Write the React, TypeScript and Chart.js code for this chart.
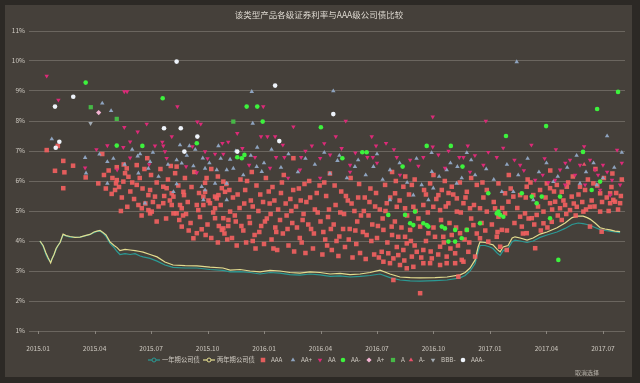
import React, { useEffect, useRef } from "react";
import { Chart, registerables } from "chart.js";

Chart.register(...registerables);

// ---------------- data ----------------
const TITLE = "该类型产品各级证券利率与AAA级公司债比较";
const X_TICK_MONTHS = [0, 3, 6, 9, 12, 15, 18, 21, 24, 27, 30];
const X_TICK_LABELS = ["2015.01", "2015.04", "2015.07", "2015.10", "2016.01", "2016.04", "2016.07", "2016.10", "2017.01", "2017.04", "2017.07"];
const SERIES_NAMES = ["一年期公司债", "两年期公司债", "AAA", "AA+", "AA", "AA-", "A+", "A", "A-", "BBB-", "AAA-"];

// x = months since 2015.01, y = rate (%)
const ONE_YEAR: [number, number][] = [[0.1,4.0],[0.27,3.82],[0.42,3.55],[0.53,3.4],[0.67,3.3],[0.74,3.4],[0.85,3.55],[0.96,3.72],[1.06,3.85],[1.17,3.95],[1.33,4.2],[1.49,4.17],[1.7,4.13],[1.96,4.12],[2.23,4.13],[2.5,4.17],[2.76,4.22],[2.97,4.28],[3.13,4.32],[3.29,4.33],[3.45,4.26],[3.61,4.15],[3.82,3.92],[4.04,3.78],[4.2,3.65],[4.35,3.55],[4.62,3.58],[4.89,3.55],[5.15,3.58],[5.42,3.5],[5.58,3.47],[5.95,3.42],[6.32,3.33],[6.74,3.2],[7.17,3.12],[7.81,3.1],[8.44,3.1],[9.13,3.05],[9.82,3.02],[10.2,2.97],[10.73,2.98],[11.26,2.95],[11.79,2.9],[12.32,2.95],[12.85,2.93],[13.38,2.88],[13.91,2.86],[14.44,2.9],[14.98,2.87],[15.51,2.82],[16.04,2.84],[16.57,2.8],[17.1,2.82],[17.63,2.85],[18.16,2.9],[18.69,2.78],[19.22,2.7],[19.76,2.67],[20.29,2.66],[21.08,2.68],[21.72,2.7],[22.41,2.77],[22.68,2.85],[22.94,3.0],[23.21,3.25],[23.37,3.65],[23.47,3.85],[23.74,3.85],[24.0,3.8],[24.16,3.75],[24.38,3.6],[24.54,3.52],[24.7,3.68],[24.96,3.75],[25.18,3.98],[25.33,4.03],[25.6,4.0],[25.97,3.95],[26.29,4.0],[26.66,4.12],[27.03,4.2],[27.56,4.3],[27.99,4.42],[28.36,4.55],[28.68,4.6],[28.94,4.58],[29.16,4.55],[29.31,4.52],[29.58,4.45],[29.85,4.38],[30.11,4.35],[30.38,4.33],[30.64,4.3],[30.91,4.28]];

const TWO_YEAR: [number, number][] = [[0.1,4.0],[0.27,3.85],[0.42,3.6],[0.53,3.45],[0.67,3.27],[0.74,3.4],[0.85,3.55],[0.96,3.75],[1.06,3.85],[1.17,3.95],[1.33,4.23],[1.49,4.18],[1.7,4.15],[1.96,4.12],[2.23,4.13],[2.5,4.18],[2.76,4.22],[2.97,4.3],[3.13,4.33],[3.29,4.35],[3.45,4.28],[3.61,4.2],[3.82,3.97],[4.04,3.85],[4.2,3.78],[4.35,3.68],[4.62,3.72],[4.89,3.7],[5.15,3.68],[5.42,3.65],[5.58,3.63],[5.95,3.55],[6.32,3.47],[6.74,3.3],[7.17,3.2],[7.81,3.18],[8.44,3.17],[9.13,3.13],[9.82,3.1],[10.2,3.03],[10.73,3.05],[11.26,3.0],[11.79,2.97],[12.32,3.02],[12.85,3.0],[13.38,2.95],[13.91,2.93],[14.44,2.97],[14.98,2.95],[15.51,2.9],[16.04,2.92],[16.57,2.88],[17.1,2.9],[17.63,2.95],[18.16,3.03],[18.69,2.9],[19.22,2.8],[19.76,2.78],[20.29,2.77],[21.08,2.78],[21.72,2.8],[22.41,2.87],[22.68,2.95],[22.94,3.1],[23.21,3.37],[23.37,3.8],[23.47,3.97],[23.74,3.95],[24.0,3.9],[24.16,3.87],[24.38,3.72],[24.54,3.64],[24.7,3.8],[24.96,3.85],[25.18,4.1],[25.33,4.14],[25.6,4.1],[25.97,4.03],[26.29,4.1],[26.66,4.23],[27.03,4.3],[27.56,4.44],[27.99,4.6],[28.36,4.78],[28.68,4.83],[28.94,4.83],[29.16,4.78],[29.31,4.73],[29.58,4.6],[29.85,4.44],[30.11,4.4],[30.38,4.37],[30.64,4.33],[30.91,4.31]];

const AAA: [number, number][] = [
[0.46,7.03],[1.05,7.17],[1.34,6.67],[1.86,6.51],[0.9,6.34],[1.4,6.29],[2.53,6.12],[1.34,5.76],[3.41,6.9],[3.2,5.92],[4.18,6.46],[4.18,6.03],[4.14,5.92],[4.53,5.98],[3.91,5.57],[4.09,5.7],[4.71,6.42],[4.62,6.26],[4.8,6.14],[5.24,6.53],[5.8,6.76],[7.36,6.48],[7.28,6.26],[13.56,6.76],
[5.24,5.87],[5.86,5.53],[6.21,5.48],[6.65,5.81],[6.83,5.76],[7.19,5.48],[7.72,5.64],[7.75,5.53],[4.74,5.14],[5.33,5.2],[5.51,5.09],[5.86,5.03],[6.04,4.98],[6.65,5.26],[7.1,5.2],[7.19,4.92],[7.54,5.2],[7.63,5.09],[7.86,4.9],[8.43,5.2],[8.51,5.03],[8.78,5.48],[8.87,5.64],[8.87,5.94],[9.4,5.48],[9.49,5.42],[9.58,5.53],[9.76,5.76],[9.93,5.64],[9.84,5.98],[9.13,5.26],[9.4,4.76],[9.84,4.42],[9.76,4.37],[10.11,4.7],[10.2,4.98],[8.69,4.39],[8.43,4.26],[8.25,4.09],[7.63,4.48],[7.36,4.92],[5.95,4.92],[7.1,5.59],[8.78,5.2],[9.84,4.76],[9.4,5.09],[10.16,5.7],
[3.5,6.2],[3.6,5.75],[3.75,6.35],[3.95,6.1],[4.3,5.8],[4.45,5.45],[4.55,6.55],[4.9,5.65],[5.0,5.95],[5.1,5.4],[5.4,6.1],[5.55,5.75],[5.65,6.4],[5.7,5.25],[5.95,5.7],[6.0,6.2],[6.1,5.3],[6.3,5.95],[6.4,5.15],[6.5,6.4],[6.7,5.5],[6.9,6.05],[7.0,5.35],[7.05,6.5],[7.45,5.85],[7.5,4.7],[7.8,6.1],[7.95,5.3],[8.1,4.6],[8.15,5.8],[8.3,6.3],[8.55,5.6],[8.6,4.8],[8.95,6.1],[9.0,4.55],[9.05,5.35],[9.2,6.4],[9.3,4.95],[9.55,6.15],[9.6,4.5],[9.7,5.2],[9.9,4.25],[10.0,5.9],[10.1,4.5],[8.0,4.35],[7.7,4.85],[6.8,4.75],[6.3,4.65],[5.5,4.85],[4.4,5.0],[9.2,4.1],[9.55,3.95],[10.05,4.05],[8.9,4.2],
[10.3,4.1],[10.35,5.45],[10.5,4.65],[10.55,3.85],[10.7,5.1],[10.75,6.05],[10.9,4.35],[11.0,5.7],[11.05,3.95],[11.2,4.8],[11.3,5.35],[11.35,6.3],[11.5,4.2],[11.55,3.75],[11.7,5.0],[11.8,5.55],[11.85,4.5],[12.0,3.9],[12.1,6.1],[12.15,4.75],[12.3,5.25],[12.4,4.05],[12.45,5.8],[12.6,4.45],[12.7,3.7],[12.75,5.05],[12.9,5.6],[13.0,4.25],[13.05,6.2],[13.2,4.85],[13.3,3.85],[13.4,5.4],[13.5,4.6],[13.6,3.65],[13.7,5.15],[13.85,5.75],[13.9,4.1],[14.05,4.7],[14.2,3.6],[14.25,5.3],[14.4,6.0],[14.5,4.4],[14.6,3.75],[14.7,5.05],[14.85,4.95],[14.95,5.85],[15.1,3.55],[15.15,4.3],[15.3,5.5],[15.4,4.8],[15.5,6.25],[15.6,3.7],[15.7,4.55],[15.8,5.2],[15.95,3.5],[16.0,4.15],[16.1,5.65],[16.25,4.9],[16.3,3.8],[16.45,5.35],[16.55,4.4],[16.6,6.1],[16.7,3.45],[16.8,5.0],[16.95,4.65],[17.05,5.9],[17.1,3.6],[17.25,4.3],[17.35,5.45],[17.4,3.4],[17.55,4.85],[17.65,5.75],[17.7,4.0],[17.85,3.55],[17.9,5.15],[18.05,4.5],[18.1,3.45],
[10.45,4.85],[10.6,5.55],[10.8,4.5],[10.95,5.25],[11.1,6.0],[11.25,4.6],[11.4,5.15],[11.6,5.85],[11.75,4.3],[11.95,5.3],[12.05,4.65],[12.25,5.65],[12.35,4.9],[12.55,5.35],[12.65,4.3],[12.85,4.7],[12.95,5.95],[13.15,5.25],[13.25,4.4],[13.45,5.0],[13.55,5.7],[13.75,4.45],[13.95,5.35],[14.1,4.9],[14.15,5.9],[14.35,4.55],[14.45,5.45],[14.65,4.25],[14.8,5.6],[15.0,4.65],[15.2,5.95],[15.25,4.05],[15.45,5.05],[15.55,4.4],[15.75,5.85],[15.85,4.0],[16.05,4.95],[16.2,4.4],[16.35,5.5],[16.5,4.05],[16.65,5.25],[16.85,4.35],[17.0,5.45],[17.15,4.85],[17.3,5.0],[17.45,4.2],[17.6,5.3],[17.75,4.55],[17.95,5.6],[18.0,4.1],[18.15,5.05],[16.9,3.9],[15.35,3.85],[14.0,3.95],[12.5,3.75],[11.4,4.0],
[18.43,5.87],[18.96,5.59],[19.4,5.81],[19.85,5.87],[20.82,5.92],[21.26,5.53],[21.44,5.7],[21.97,5.81],[22.24,5.42],[22.77,5.64],[23.3,5.87],[23.83,5.7],[24.45,5.92],[24.8,5.59],[25.24,5.48],[25.6,5.53],[25.95,5.81],[26.3,5.53],[26.66,5.7],[27.02,5.92],[27.19,5.76],[27.55,5.87],[27.81,5.64],[28.08,5.81],[28.34,5.48],[28.78,5.81],[29.05,5.7],[29.49,5.92],[29.85,5.59],[30.38,5.59],[30.55,5.37],[30.91,5.26],
[18.52,5.26],[19.05,5.14],[19.49,5.09],[19.93,5.14],[20.46,5.2],[20.99,5.14],[21.35,5.03],[21.79,5.26],[22.24,4.98],[22.59,5.26],[22.94,5.09],[23.47,5.09],[23.83,4.98],[24.27,5.09],[24.45,4.81],[24.8,4.92],[24.98,5.31],[25.6,4.81],[25.86,4.92],[26.22,4.76],[26.48,4.87],[26.84,4.98],[27.19,5.26],[27.46,5.31],[27.72,5.09],[27.99,5.2],[28.25,5.03],[28.61,5.14],[28.96,4.98],[29.31,5.14],[29.85,4.98],[30.38,5.26],[30.64,5.31],
[18.34,4.37],[18.78,4.48],[19.13,4.14],[19.49,4.14],[19.76,4.37],[20.29,4.48],[20.73,4.26],[21.08,4.14],[21.52,4.14],[21.97,4.2],[22.41,4.26],[22.77,4.37],[23.12,4.53],[23.47,4.09],[23.91,3.98],[24.36,4.14],[24.63,4.37],[25.69,4.48],[25.95,4.26],[26.84,4.59],[27.28,4.64],[27.81,4.7],[29.31,4.48],[29.93,4.31],
[18.25,3.64],[18.6,3.59],[18.87,3.42],[19.13,3.53],[19.4,3.7],[19.58,3.92],[19.85,3.48],[20.11,3.64],[20.46,3.7],[20.91,3.42],[21.35,3.81],[21.7,3.48],[22.15,3.59],[22.5,3.37],[22.85,3.64],[23.21,3.48],[24.54,3.81],[24.89,3.7],
[18.34,3.31],[18.69,3.26],[19.22,3.2],[19.58,3.09],[19.93,3.14],[20.46,3.26],[20.82,3.26],[21.35,3.2],[21.7,3.26],[22.15,3.26],[22.59,3.31],
[18.87,2.7],[20.29,2.26],[22.32,2.81],[26.4,3.76],
[18.3,4.75],[18.45,5.0],[18.55,3.95],[18.7,5.45],[18.8,4.2],[18.95,4.65],[19.05,3.8],[19.2,5.35],[19.3,4.45],[19.45,3.35],[19.6,4.85],[19.7,5.55],[19.8,4.0],[20.0,3.85],[20.05,5.0],[20.2,4.75],[20.35,3.45],[20.5,5.7],[20.6,4.0],[20.7,4.95],[20.85,3.65],[21.0,4.45],[21.15,5.4],[21.25,3.55],[21.4,4.7],[21.55,3.95],[21.65,5.15],[21.85,4.6],[21.9,3.75],[22.05,5.55],[22.2,4.45],[22.3,3.85],[22.45,4.95],[22.65,4.05],[22.7,5.45],[22.9,3.95],[23.0,4.75],[23.15,5.2],[23.3,4.25],[23.55,4.6],[23.65,5.45],[23.75,4.35],[24.1,4.55],[24.2,5.3],[24.4,4.3],[24.65,5.1],[19.0,6.0],[20.0,6.05],[21.6,6.0],[22.4,5.95],[23.6,5.95],[20.6,5.55],[21.8,5.6],
[24.9,4.35],[25.1,5.75],[25.3,4.6],[25.45,5.1],[25.75,4.25],[25.9,5.45],[26.05,4.75],[26.15,5.95],[26.35,4.55],[26.55,5.15],[26.7,4.35],[26.95,5.45],[27.05,4.45],[27.3,5.05],[27.4,5.65],[27.6,4.85],[27.9,5.35],[28.05,4.9],[28.15,5.95],[28.45,5.25],[28.55,4.85],[28.7,5.55],[28.9,5.3],[29.1,5.05],[29.2,6.05],[29.4,5.35],[29.55,5.15],[29.7,5.85],[29.95,5.3],[30.05,6.1],[30.2,5.45],[30.3,5.0],[30.45,5.8],[30.7,5.6],[30.8,5.05],[30.95,5.5],[31.0,6.05],
[25.0,6.2],[26.0,6.05],[27.2,6.35],[28.4,6.15],[29.6,6.4],[30.5,6.25],[23.0,6.1],[21.0,6.2],[19.5,6.15],[18.8,6.3]];

const AA_PLUS: [number, number][] = [[0.73,7.4],[3.41,8.59],[3.88,8.34],[3.26,6.89],[2.5,6.78],[3.68,6.64],[2.55,6.26],[3.68,5.92],[8.04,7.17],[7.54,7.2],[9.58,7.17],[5.42,6.9],[5.29,6.83],[10.2,6.72],[7.36,6.7],[7.63,6.59],[5.95,6.64],[8.25,6.5],[8.75,6.76],[8.87,6.42],[9.49,6.37],[10.02,6.37],[10.37,6.42],[5.33,6.26],[5.86,6.42],[7.19,5.64],[5.68,5.26],[9.4,5.92],[8.87,5.7],[8.69,5.81],[10.02,5.92],[10.02,5.37],[8.78,5.37],[7.36,5.9],[11.35,8.98],[15.68,9.0],[11.4,7.92],[11.64,7.12],[20.9,6.94],[22.77,6.94],[25.42,9.97],[30.22,7.5],[15.9,6.68],[16.83,6.48],[17.81,6.48],[18.69,6.37],[20.91,6.31],[21.7,6.37],[22.27,6.48],[23.21,6.2],[11.61,6.48],[11.88,6.31],[20.37,5.87],[20.99,5.76],[22.23,5.92],[24.63,5.64],[25.24,5.64],[27.37,5.98],[28.78,5.92],[29.67,5.87],[18.69,5.37],[20.73,5.37],[19.93,5.53],[26.3,5.37],
[4.0,6.75],[4.6,6.55],[5.0,7.05],[6.1,6.95],[6.4,6.15],[6.9,6.55],[7.9,6.85],[8.35,7.05],[9.1,6.6],[9.7,6.75],[10.5,7.0],[10.9,6.2],[11.3,6.85],[12.0,6.6],[12.4,7.05],[12.9,6.45],[13.3,6.9],[13.8,6.3],[14.2,6.75],[14.7,6.55],[15.2,6.95],[15.5,6.25],[16.0,6.85],[16.4,6.1],[17.0,6.7],[17.4,6.2],[18.0,6.9],[18.3,6.05],[19.2,6.6],[19.6,5.95],[20.1,6.75],[21.3,6.15],[21.9,6.6],[22.5,6.1],[23.0,6.7],[23.8,6.4],[24.2,6.05],[24.9,6.55],[25.5,6.2],[26.0,6.75],[26.6,6.3],[27.0,6.6],[27.6,6.15],[28.1,6.45],[28.6,6.85],[29.1,6.3],[29.5,6.6],[30.0,6.1],[30.6,6.45],[31.0,6.95]];

const AA: [number, number][] = [[0.46,9.5],[1.08,8.7],[3.68,7.18],[2.5,6.44],[4.58,8.98],[4.73,8.98],[7.4,8.48],[8.46,7.97],[8.64,7.9],[4.58,7.79],[5.77,7.9],[5.29,7.64],[10.58,7.59],[7.1,7.48],[4.89,7.31],[9.79,7.26],[6.21,7.17],[6.65,7.17],[4.53,7.12],[9.4,6.9],[9.84,6.9],[10.85,7.09],[6.74,6.98],[8.87,6.98],[11.21,6.53],[6.83,6.76],[7.86,6.48],[8.43,6.28],[11.96,8.48],[16.34,8.0],[20.96,8.14],[23.78,8.0],[13.56,7.81],[15.81,7.48],[17.72,7.48],[11.84,7.48],[12.18,7.48],[12.59,7.48],[18.48,7.26],[20.96,7.14],[22.82,7.17],[14.54,7.17],[17.95,7.17],[16.12,7.09],[16.85,6.94],[23.91,6.96],[11.52,6.79],[12.64,6.79],[13.08,6.79],[13.97,6.79],[14.98,6.76],[15.51,6.87],[16.57,6.53],[17.49,6.79],[17.78,6.79],[19.05,6.79],[19.76,6.7],[20.46,6.79],[21.26,6.87],[22.37,6.79],[22.59,6.79],[23.65,6.53],[24.36,6.79],[29.31,6.7],[29.58,6.37],[29.74,6.2],[30.0,6.53],[30.22,6.3],[30.48,6.03],[28.78,6.53],[28.52,6.2],[28.25,6.7],[27.72,6.37],[27.46,6.03],[27.99,5.87],[30.75,7.03],[30.91,5.87],[29.05,5.87],[29.85,5.7],[30.38,5.53],[19.22,6.2],[21.61,6.43],[22.94,6.3],[25.6,6.53],[26.4,6.03],[13.91,6.37],[14.98,6.1],[16.57,6.3],[12.32,6.43],[13.28,6.1],[4.89,6.77],[4.2,6.37],
[3.1,7.05],[5.9,6.55],[6.6,7.3],[8.2,7.15],[9.0,6.75],[10.1,7.3],[13.0,7.2],[14.2,7.0],[15.2,7.25],[18.0,6.6],[18.9,7.05],[20.2,6.5],[21.8,7.0],[23.2,6.85],[24.7,7.1],[25.3,6.7],[26.2,7.2],[26.9,6.75],[27.5,7.05],[28.0,6.6],[29.0,7.15],[31.0,6.6],[26.8,6.2],[27.1,5.95],[25.8,6.35]];

const AA_MINUS: [number, number][] = [[2.53,9.28],[4.18,7.18],[6.62,8.76],[11.08,8.48],[8.43,7.26],[5.54,7.17],[10.58,6.79],[10.82,6.76],[10.96,6.87],[11.64,8.48],[11.93,7.98],[15.02,7.79],[20.64,7.17],[21.92,7.17],[17.22,6.96],[17.45,6.96],[16.16,6.76],[19.36,6.48],[22.54,6.48],[18.6,4.87],[19.49,4.87],[19.76,4.59],[19.93,4.53],[20.46,4.59],[20.64,4.53],[20.73,4.48],[20.02,4.98],[21.44,4.48],[21.61,4.42],[21.79,3.98],[22.15,3.98],[22.5,4.09],[22.15,4.37],[22.77,4.37],[23.47,4.59],[23.91,5.59],[24.36,4.92],[24.54,4.87],[24.71,4.81],[24.45,4.98],[25.69,5.59],[26.22,5.48],[26.48,5.26],[26.75,5.48],[27.19,4.76],[27.72,5.48],[27.63,3.37],[29.4,5.7],[29.85,5.98],[30.8,8.97],[29.69,8.4],[26.98,7.83],[24.85,7.5],[28.94,6.97]];

const A_PLUS: [number, number][] = [[3.22,8.28]];
const A_RATED: [number, number][] = [[2.8,8.46],[4.18,8.07],[10.37,7.98]];
const A_MINUS: [number, number][] = [[29.0,6.55]];
const BBB_MINUS: [number, number][] = [[2.79,7.92]];
const AAA_MINUS: [number, number][] = [[1.87,8.81],[0.9,8.48],[0.94,7.11],[7.36,9.98],[6.69,7.76],[7.58,7.76],[8.46,7.48],[1.13,7.31],[10.58,6.98],[7.77,6.98],[12.59,9.18],[15.68,8.23],[12.81,7.33]];

// ---------------- styles ----------------
const FONT = "'Noto Sans CJK SC', 'Noto Sans', sans-serif";
const PANEL_BG = "#45403a";
const OUTER_BG = "#2c2925";
const TEXT = "#cfcac2";
const LEGEND_CENTERS = [154, 209, 263, 293, 320, 343, 369, 393, 411, 433, 463];

type Sty = { color: string; shape: string; r: number; rot?: number };
const STYLES: Sty[] = [
  { color: "#2b9a95", shape: "line", r: 0 },
  { color: "#e3dc8f", shape: "line", r: 0 },
  { color: "rgba(244,96,96,0.9)", shape: "rect", r: 3.2 },
  { color: "#8ea3bf", shape: "triangle", r: 2.6 },
  { color: "#dc2a78", shape: "triangle", r: 2.6, rot: 180 },
  { color: "#3df23d", shape: "circle", r: 2.3 },
  { color: "#f3b3d2", shape: "rectRot", r: 2.6 },
  { color: "#46b946", shape: "rect", r: 3.0 },
  { color: "#e8506a", shape: "triangle", r: 2.6 },
  { color: "#a3acb5", shape: "triangle", r: 2.6, rot: 180 },
  { color: "#eef3fa", shape: "circle", r: 2.3 },
];
const SERIES_DATA = [ONE_YEAR, TWO_YEAR, AAA, AA_PLUS, AA, AA_MINUS, A_PLUS, A_RATED, A_MINUS, BBB_MINUS, AAA_MINUS];

function drawShape(ctx: CanvasRenderingContext2D, s: Sty, x: number, y: number) {
  ctx.fillStyle = s.color;
  ctx.strokeStyle = s.color;
  if (s.shape === "line") {
    ctx.lineWidth = 1.2;
    ctx.beginPath();
    ctx.moveTo(x - 6, y);
    ctx.lineTo(x + 6, y);
    ctx.stroke();
    ctx.beginPath();
    ctx.arc(x, y, 2, 0, Math.PI * 2);
    ctx.fillStyle = PANEL_BG;
    ctx.fill();
    ctx.lineWidth = 1;
    ctx.stroke();
    return;
  }
  ctx.beginPath();
  const r = s.r;
  if (s.shape === "rect") {
    const h = r * Math.SQRT1_2;
    ctx.rect(x - h, y - h, 2 * h, 2 * h);
  } else if (s.shape === "rectRot") {
    ctx.moveTo(x, y - r); ctx.lineTo(x + r, y); ctx.lineTo(x, y + r); ctx.lineTo(x - r, y); ctx.closePath();
  } else if (s.shape === "circle") {
    ctx.arc(x, y, r, 0, Math.PI * 2);
  } else if (s.shape === "triangle") {
    const d = s.rot ? -1 : 1;
    ctx.moveTo(x, y - d * r);
    ctx.lineTo(x + r * 0.866, y + d * r * 0.5);
    ctx.lineTo(x - r * 0.866, y + d * r * 0.5);
    ctx.closePath();
  }
  ctx.fill();
}

const overlayPlugin = {
  id: "overlay",
  afterDraw(chart: any) {
    const ctx: CanvasRenderingContext2D = chart.ctx;
    const xs = chart.scales.x;
    const bottom = chart.chartArea.bottom;
    ctx.save();
    ctx.strokeStyle = "#8a857e";
    ctx.lineWidth = 1;
    for (const m of X_TICK_MONTHS) {
      const px = Math.round(xs.getPixelForValue(m)) + 0.5;
      ctx.beginPath();
      ctx.moveTo(px, bottom);
      ctx.lineTo(px, bottom + 3);
      ctx.stroke();
    }
    ctx.font = `8.5px ${FONT}`;
    ctx.fillStyle = "#ddd8d0";
    ctx.textAlign = "center";
    ctx.textBaseline = "middle";
    ctx.fillText(TITLE, 319, 15);
    ctx.font = `6.3px ${FONT}`;
    const ly = 360;
    SERIES_NAMES.forEach((name, i) => {
      const cx = LEGEND_CENTERS[i];
      drawShape(ctx, STYLES[i], cx, ly);
      ctx.fillStyle = TEXT;
      ctx.textAlign = "left";
      ctx.textBaseline = "middle";
      ctx.fillText(name, cx + 8, ly);
    });
    ctx.font = `6px ${FONT}`;
    ctx.fillStyle = "#b5b0a8";
    ctx.textAlign = "left";
    ctx.fillText("取消选择", 575, 373);
    ctx.restore();
  },
};

export default function App() {
  const ref = useRef<HTMLCanvasElement | null>(null);
  useEffect(() => {
    if (!ref.current) return;
    const datasets: any[] = SERIES_DATA.map((arr, i) => {
      const s = STYLES[i];
      const data = arr.map(([x, y]) => ({ x, y }));
      if (s.shape === "line") {
        return {
          label: SERIES_NAMES[i], data, showLine: true, borderColor: s.color, borderWidth: 1.2,
          pointRadius: 0, fill: false, tension: 0, order: 20 - i,
        };
      }
      return {
        label: SERIES_NAMES[i], data, showLine: false, pointStyle: s.shape, pointRadius: s.r,
        pointRotation: s.rot || 0, backgroundColor: s.color, borderColor: s.color, borderWidth: 0,
        order: 20 - i,
      };
    });
    const chart = new Chart(ref.current, {
      type: "scatter",
      data: { datasets },
      plugins: [overlayPlugin],
      options: {
        animation: false,
        responsive: false,
        devicePixelRatio: 1,
        layout: { padding: { top: 31, right: 15, bottom: 32, left: 0 } },
        plugins: { legend: { display: false }, title: { display: false }, tooltip: { enabled: false } },
        scales: {
          x: {
            type: "linear", min: -0.48, max: 31.17,
            afterFit: (s: any) => { s.height = 20; },
            afterBuildTicks: (s: any) => { s.ticks = X_TICK_MONTHS.map((v) => ({ value: v })); },
            grid: { display: false },
            border: { display: false },
            ticks: {
              autoSkip: false, maxRotation: 0, padding: 6, color: TEXT,
              font: { size: 6.5, family: FONT },
              callback: (_v: any, i: number) => X_TICK_LABELS[i],
            },
          },
          y: {
            min: 1, max: 11,
            afterFit: (s: any) => { s.width = 29; },
            grid: { color: "#6b665f", lineWidth: 1, drawTicks: false },
            border: { display: false },
            ticks: {
              stepSize: 1, padding: 4, color: TEXT, font: { size: 6.5, family: FONT },
              callback: (v: any) => `${v}%`,
            },
          },
        },
      } as any,
    });
    return () => chart.destroy();
  }, []);
  return (
    <div style={{ position: "fixed", left: 0, top: 0, width: 640, height: 383, background: OUTER_BG }}>
      <div style={{ position: "absolute", left: 5, top: 5, width: 627, height: 372, background: PANEL_BG }} />
      <canvas ref={ref} width={640} height={383} style={{ position: "absolute", left: 0, top: 0, width: 640, height: 383 }} />
    </div>
  );
}
